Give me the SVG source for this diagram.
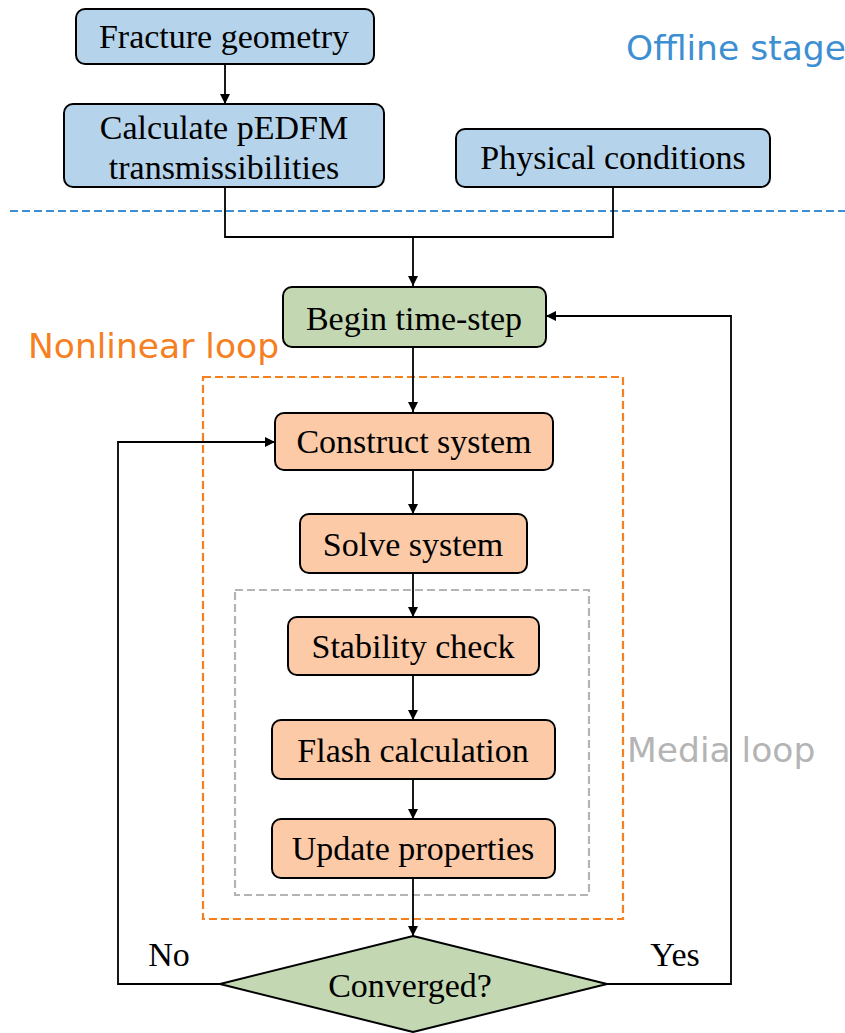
<svg xmlns="http://www.w3.org/2000/svg" width="845" height="1033" viewBox="0 0 845 1033">
<defs>
<marker id="arr" viewBox="0 0 10 10" refX="10" refY="5" markerWidth="10" markerHeight="10" markerUnits="userSpaceOnUse" orient="auto">
<path d="M0,0 L10,5 L0,10 z" fill="#000"/>
</marker>
<style>
.node{stroke:#000;stroke-width:2}
.blue{fill:#b5d3ea}
.green{fill:#c3d8b2}
.orange{fill:#fdcaa7}
.t{font-family:"Liberation Serif","Times New Roman",serif;font-size:34px;fill:#000;text-anchor:middle}
.lbl{font-family:"DejaVu Sans",sans-serif;font-size:34.5px}
.conn{fill:none;stroke:#000;stroke-width:1.8}
</style>
</defs>
<rect width="845" height="1033" fill="#fff"/>

<g id="regions">
<line x1="10" y1="211" x2="845" y2="211" stroke="#3d8fd2" stroke-width="2.2" stroke-dasharray="8,4"/>
<rect x="203" y="377" width="420" height="542" fill="none" stroke="#f5801f" stroke-width="2.2" stroke-dasharray="8,4"/>
<rect x="235" y="590" width="354" height="305" fill="none" stroke="#b4b4b4" stroke-width="2.2" stroke-dasharray="8,4"/>
<text class="lbl" x="626" y="60" fill="#3d8fd2">Offline stage</text>
<text class="lbl" x="28" y="358" fill="#f5801f">Nonlinear loop</text>
<text class="lbl" x="627" y="762" fill="#b4b4b4">Media loop</text>
</g>

<g id="connectors">
<line class="conn" x1="225" y1="64" x2="225" y2="104" marker-end="url(#arr)"/>
<polyline class="conn" points="225,187 225,237 613,237 613,187"/>
<line class="conn" x1="413" y1="237" x2="413" y2="286" marker-end="url(#arr)"/>
<line class="conn" x1="413" y1="347" x2="413" y2="412" marker-end="url(#arr)"/>
<line class="conn" x1="413" y1="470" x2="413" y2="514" marker-end="url(#arr)"/>
<line class="conn" x1="413" y1="573" x2="413" y2="617" marker-end="url(#arr)"/>
<line class="conn" x1="413" y1="675" x2="413" y2="720" marker-end="url(#arr)"/>
<line class="conn" x1="413" y1="779" x2="413" y2="819" marker-end="url(#arr)"/>
<line class="conn" x1="413" y1="878" x2="413" y2="936" marker-end="url(#arr)"/>
<polyline class="conn" points="220,984 118,984 118,442 275,442" marker-end="url(#arr)"/>
<polyline class="conn" points="607,984 731,984 731,316 546,316" marker-end="url(#arr)"/>
<text class="t" x="169" y="966">No</text>
<text class="t" x="675" y="966">Yes</text>
</g>

<g id="fracture-geometry">
<rect class="node blue" x="76" y="9" width="298" height="55" rx="9"/>
<text class="t" x="224" y="48">Fracture geometry</text>
</g>
<g id="calculate-pedfm">
<rect class="node blue" x="64" y="104" width="320" height="83" rx="9"/>
<text class="t" x="224" y="139">Calculate pEDFM</text>
<text class="t" x="224" y="179">transmissibilities</text>
</g>
<g id="physical-conditions">
<rect class="node blue" x="456" y="129" width="314" height="58" rx="9"/>
<text class="t" x="613" y="169">Physical conditions</text>
</g>
<g id="begin-time-step">
<rect class="node green" x="283" y="287" width="263" height="60" rx="9"/>
<text class="t" x="414" y="330">Begin time-step</text>
</g>
<g id="construct-system">
<rect class="node orange" x="275" y="413" width="278" height="57" rx="9"/>
<text class="t" x="414" y="453">Construct system</text>
</g>
<g id="solve-system">
<rect class="node orange" x="300" y="514" width="227" height="59" rx="9"/>
<text class="t" x="413" y="556">Solve system</text>
</g>
<g id="stability-check">
<rect class="node orange" x="288" y="617" width="251" height="58" rx="9"/>
<text class="t" x="413" y="658">Stability check</text>
</g>
<g id="flash-calculation">
<rect class="node orange" x="272" y="720" width="283" height="59" rx="9"/>
<text class="t" x="413" y="762">Flash calculation</text>
</g>
<g id="update-properties">
<rect class="node orange" x="272" y="819" width="283" height="59" rx="9"/>
<text class="t" x="413" y="860">Update properties</text>
</g>
<g id="converged">
<polygon class="node green" points="413,936 607,984 413,1032 220,984"/>
<text class="t" x="410" y="997">Converged?</text>
</g>
</svg>
